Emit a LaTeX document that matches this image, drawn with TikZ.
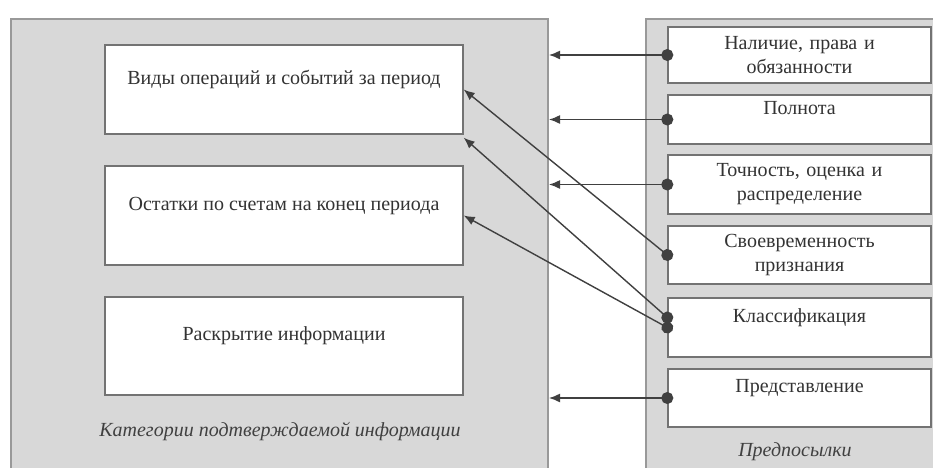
\documentclass[tikz,border=0pt]{standalone}
\usepackage{fontspec}
\setmainfont{Liberation Serif}
\usetikzlibrary{arrows.meta}
\definecolor{panelgray}{HTML}{D8D8D8}

\begin{document}
\begin{tikzpicture}[x=0.5pt, y=-0.5pt,
	panel/.style={draw=black!40, line width=1pt, fill=panelgray, anchor=north west, inner sep=0pt},
	box/.style={draw=black!55, line width=0.7pt, fill=white, align=center, inner ysep=1pt,
		font=\fontsize{10}{12}\selectfont, text=black!80},
	catbox/.style={box, minimum width=179pt},
	prebox/.style={box, minimum width=131.5pt, text width=120pt},
	conn/.style={draw=black!75, line width=0.7pt, {Circle[length=6pt]}-{Latex[length=5.5pt, width=4.5pt]}, shorten <=-3pt},
	caption/.style={font=\fontsize{10}{12}\selectfont\itshape, text=black!75}]

	\clip (0,0) rectangle (933,467);
	\fill[white] (0,0) rectangle (933,467);

	% Panels
	\node[panel, minimum width=268.5pt, minimum height=240pt] (cat) at (10,18) {};
	\node[panel, minimum width=150pt, minimum height=240pt] (pre) at (645,18) {};

	% Categories
	\node[catbox, minimum height=44.5pt] (b1) at (284,89.5) {Виды операций и событий за период\\ \mbox{}};
	\node[catbox, minimum height=49.5pt] (b2) at (284,215.5) {Остатки по счетам на конец периода\\ \mbox{}};
	\node[catbox, minimum height=49pt] (b3) at (284,346) {Раскрытие информации\\ \mbox{}};
	\node[caption] (catlabel) at (280,432) {Категории подтверждаемой информации};

	% Assertions
	\node[prebox, minimum height=28pt] (r1) at (799.5,55) {Наличие, права и\\обязанности};
	\node[prebox, minimum height=24.5pt] (r2) at (799.5,119.5) {Полнота\\ \mbox{}};
	\node[prebox, minimum height=29.5pt] (r3) at (799.5,184.5) {Точность, оценка и\\распределение};
	\node[prebox, minimum height=29pt] (r4) at (799.5,255) {Своевременность\\признания};
	\node[prebox, minimum height=29.5pt] (r5) at (799.5,327.5) {Классификация\\ \mbox{}};
	\node[prebox, minimum height=29pt] (r6) at (799.5,398) {Представление\\ \mbox{}};
	\node[caption] (prelabel) at (795,452) {Предпосылки};

	% Links
	\draw[conn] (r1.west) -- (r1.west -| cat.east);
	\draw[conn] (r2.west) -- (r2.west -| cat.east);
	\draw[conn] (r3.west) -- (r3.west -| cat.east);
	\draw[conn] (r6.west) -- (r6.west -| cat.east);
	\draw[conn] (r4.west) -- (b1.east);
	\draw[conn] ([yshift=5pt]r5.west) -- ([yshift=-1.5pt]b1.south east);
	\draw[conn] (r5.west) -- (b2.east);
\end{tikzpicture}
\end{document}
